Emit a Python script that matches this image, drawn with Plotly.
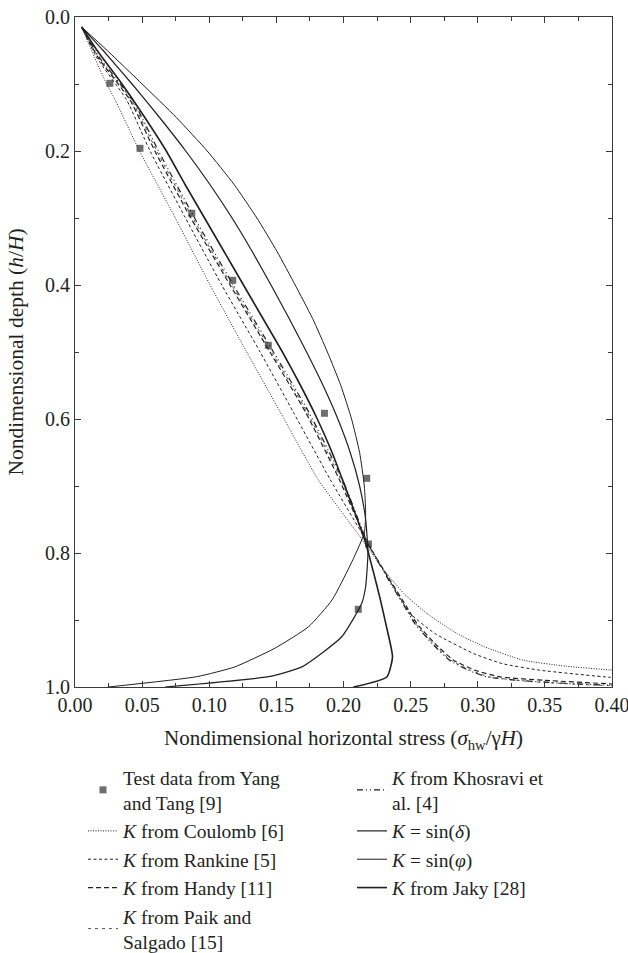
import plotly.graph_objects as go

# ---------------- data ----------------
test_x = [0.026, 0.0484, 0.087, 0.1175, 0.144, 0.1858, 0.2173, 0.2186, 0.211]
test_y = [0.099, 0.196, 0.293, 0.393, 0.490, 0.5915, 0.6885, 0.7866, 0.884]

coulomb_y = [0.015, 0.06, 0.1, 0.124, 0.2, 0.299, 0.4, 0.5, 0.59, 0.69, 0.776, 0.82, 0.86, 0.89, 0.92, 0.94, 0.96, 0.969, 0.9746, 0.978]
coulomb_x = [0.005, 0.0145, 0.0236, 0.030, 0.048, 0.0745, 0.1006, 0.1279, 0.153, 0.181, 0.2124, 0.228, 0.2447, 0.262, 0.2844, 0.305, 0.334, 0.366, 0.3987, 0.42]

rankine_y = [0.015, 0.06, 0.124, 0.2, 0.299, 0.4, 0.5, 0.59, 0.69, 0.785, 0.84, 0.89, 0.92, 0.95, 0.965, 0.975, 0.9856, 0.988]
rankine_x = [0.005, 0.016, 0.0385, 0.0559, 0.082, 0.1093, 0.1379, 0.1627, 0.190, 0.218, 0.234, 0.2496, 0.268, 0.2968, 0.318, 0.3465, 0.3987, 0.42]

handy_y = [0.015, 0.06, 0.124, 0.2, 0.299, 0.4, 0.5, 0.59, 0.69, 0.785, 0.84, 0.88, 0.905, 0.935, 0.96, 0.975, 0.985, 0.99, 0.9955, 0.997]
handy_x = [0.005, 0.017, 0.041, 0.0595, 0.086, 0.1155, 0.1452, 0.1718, 0.1968, 0.218, 0.2345, 0.247, 0.2546, 0.268, 0.2819, 0.298, 0.3167, 0.35, 0.40, 0.42]

paik_y = [0.015, 0.06, 0.124, 0.2, 0.299, 0.4, 0.5, 0.59, 0.69, 0.785, 0.84, 0.88, 0.905, 0.935, 0.96, 0.975, 0.985, 0.992, 0.997, 0.999]
paik_x = [0.005, 0.0175, 0.042, 0.0609, 0.0874, 0.1167, 0.1465, 0.173, 0.198, 0.218, 0.234, 0.246, 0.2535, 0.2665, 0.280, 0.2945, 0.309, 0.34, 0.385, 0.42]

khosravi_y = [0.015, 0.06, 0.124, 0.2, 0.299, 0.4, 0.5, 0.59, 0.69, 0.785, 0.84, 0.88, 0.905, 0.935, 0.96, 0.975, 0.985, 0.99, 0.995, 0.999]
khosravi_x = [0.005, 0.018, 0.043, 0.0622, 0.0888, 0.1179, 0.1478, 0.1742, 0.1992, 0.218, 0.2335, 0.2455, 0.253, 0.266, 0.279, 0.293, 0.307, 0.33, 0.37, 0.42]

sind_y = [0.015, 0.05, 0.1, 0.15, 0.2, 0.25, 0.3, 0.35, 0.4, 0.45, 0.5, 0.55, 0.6, 0.65, 0.7, 0.75, 0.8, 0.85, 0.875, 0.925, 0.97, 0.9846, 1.0]
sind_x = [0.005, 0.021, 0.0425, 0.063, 0.0825, 0.1005, 0.117, 0.132, 0.146, 0.1595, 0.1725, 0.1848, 0.1958, 0.205, 0.212, 0.2165, 0.2182, 0.2165, 0.2136, 0.1987, 0.169, 0.144, 0.067]

sinp_y = [0.015, 0.05, 0.1, 0.15, 0.2, 0.25, 0.3, 0.35, 0.4, 0.45, 0.5, 0.55, 0.6, 0.65, 0.7, 0.74, 0.77, 0.81, 0.87, 0.91, 0.942, 0.97, 0.9846, 1.0]
sinp_x = [0.005, 0.024, 0.050, 0.0755, 0.0985, 0.1185, 0.1355, 0.1505, 0.164, 0.177, 0.188, 0.198, 0.206, 0.212, 0.2155, 0.2165, 0.2155, 0.207, 0.1915, 0.174, 0.149, 0.119, 0.0907, 0.0248]

jaky_y = [0.015, 0.05, 0.1, 0.15, 0.2, 0.25, 0.3, 0.35, 0.4, 0.45, 0.5, 0.55, 0.6, 0.65, 0.7, 0.74, 0.785, 0.83, 0.87, 0.91, 0.955, 0.985, 1.0]
jaky_x = [0.005, 0.0165, 0.035, 0.052, 0.068, 0.082, 0.0965, 0.111, 0.1255, 0.140, 0.1545, 0.168, 0.1805, 0.1915, 0.201, 0.2085, 0.2165, 0.2225, 0.2275, 0.232, 0.2365, 0.2323, 0.2074]

x_ticks = [0.00, 0.05, 0.10, 0.15, 0.20, 0.25, 0.30, 0.35, 0.40]
y_ticks = [0.0, 0.2, 0.4, 0.6, 0.8, 1.0]

# ---------------- styling ----------------
FONT = "Liberation Serif"
INK = "#231f20"
AXC = "#3a3a3a"

W, H = 628, 953
L, R, T, B = 75, 16, 17, 266
PW, PH = W - L - R, H - T - B

fig = go.Figure()

def line(x, y, name, dash, width, color=INK, legend="legend"):
    fig.add_trace(go.Scatter(x=x, y=y, mode="lines", name=name, legend=legend,
                             line=dict(color=color, width=width, dash=dash,
                                       shape="spline", smoothing=0.5)))

fig.add_trace(go.Scatter(x=test_x, y=test_y, mode="markers", legend="legend",
                         name="Test data from Yang<br>and Tang [9]",
                         marker=dict(symbol="square", size=7, color="#6d6e70")))
line(coulomb_x, coulomb_y, "<i>K</i> from Coulomb [6]", "1px,1.5px", 1)
line(rankine_x, rankine_y, "<i>K</i> from Rankine [5]", "3px,2.5px", 1)
line(handy_x, handy_y, "<i>K</i> from Handy [11]", "5px,3px", 1.2)
line(paik_x, paik_y, "<i>K</i> from Paik and<br>Salgado [15]", "3px,4px", 1, color="#555")
line(khosravi_x, khosravi_y, "<i>K</i> from Khosravi et<br>al. [4]", "6px,3px,1px,3px,1px,3px", 1.2, legend="legend2")
line(sind_x, sind_y, "<i>K</i> = sin(<i>δ</i>)", None, 1.2, legend="legend2")
line(sinp_x, sinp_y, "<i>K</i> = sin(<i>φ</i>)", None, 1.0, legend="legend2")
line(jaky_x, jaky_y, "<i>K</i> from Jaky [28]", None, 1.6, legend="legend2")

axis_common = dict(
    showline=True, linecolor=AXC, linewidth=1, mirror="ticks",
    ticks="inside", ticklen=6, tickwidth=1, tickcolor=AXC,
    showgrid=False, zeroline=False, automargin=False, ticklabeloverflow="allow",
    tickfont=dict(family=FONT, size=20, color=INK),
)

fig.update_xaxes(range=[0, 0.4], tickvals=x_ticks, tickformat=".2f",
                 minor=dict(ticks="inside", ticklen=4, dtick=0.025, tickcolor=AXC, showgrid=False),
                 title=dict(text="Nondimensional horizontal stress (<i>σ</i><sub>hw</sub>/γ<i>H</i>)",
                            font=dict(family=FONT, size=21, color=INK)),
                 **axis_common)
fig.update_yaxes(range=[1.0, 0.0], tickvals=y_ticks, tickformat=".1f",
                 minor=dict(ticks="inside", ticklen=4, dtick=0.1, tickcolor=AXC, showgrid=False),
                 title=dict(text="Nondimensional depth (<i>h</i>/<i>H</i>)",
                            font=dict(family=FONT, size=21.5, color=INK)),
                 **axis_common)

# legend top edge: 71 px under the plot area; columns start 8 px and 277 px right of its left edge
leg_top = -71 / PH
legend_common = dict(font=dict(family=FONT, size=19.5, color=INK), bgcolor="rgba(0,0,0,0)",
                     yanchor="top", xanchor="left", tracegroupgap=0, itemwidth=30)
fig.update_layout(
    width=W, height=H,
    margin=dict(l=L, r=R, t=T, b=B, autoexpand=False),
    plot_bgcolor="white", paper_bgcolor="white",
    font=dict(family=FONT, size=20, color=INK),
    legend=dict(x=8 / PW, y=leg_top, **legend_common),
    legend2=dict(x=277 / PW, y=leg_top, **legend_common),
)

# the page's default 8 px body margin would shift and crop the figure
fig.write_html("out.html", config={"displayModeBar": False},
               post_script="document.body.style.margin='0';")
